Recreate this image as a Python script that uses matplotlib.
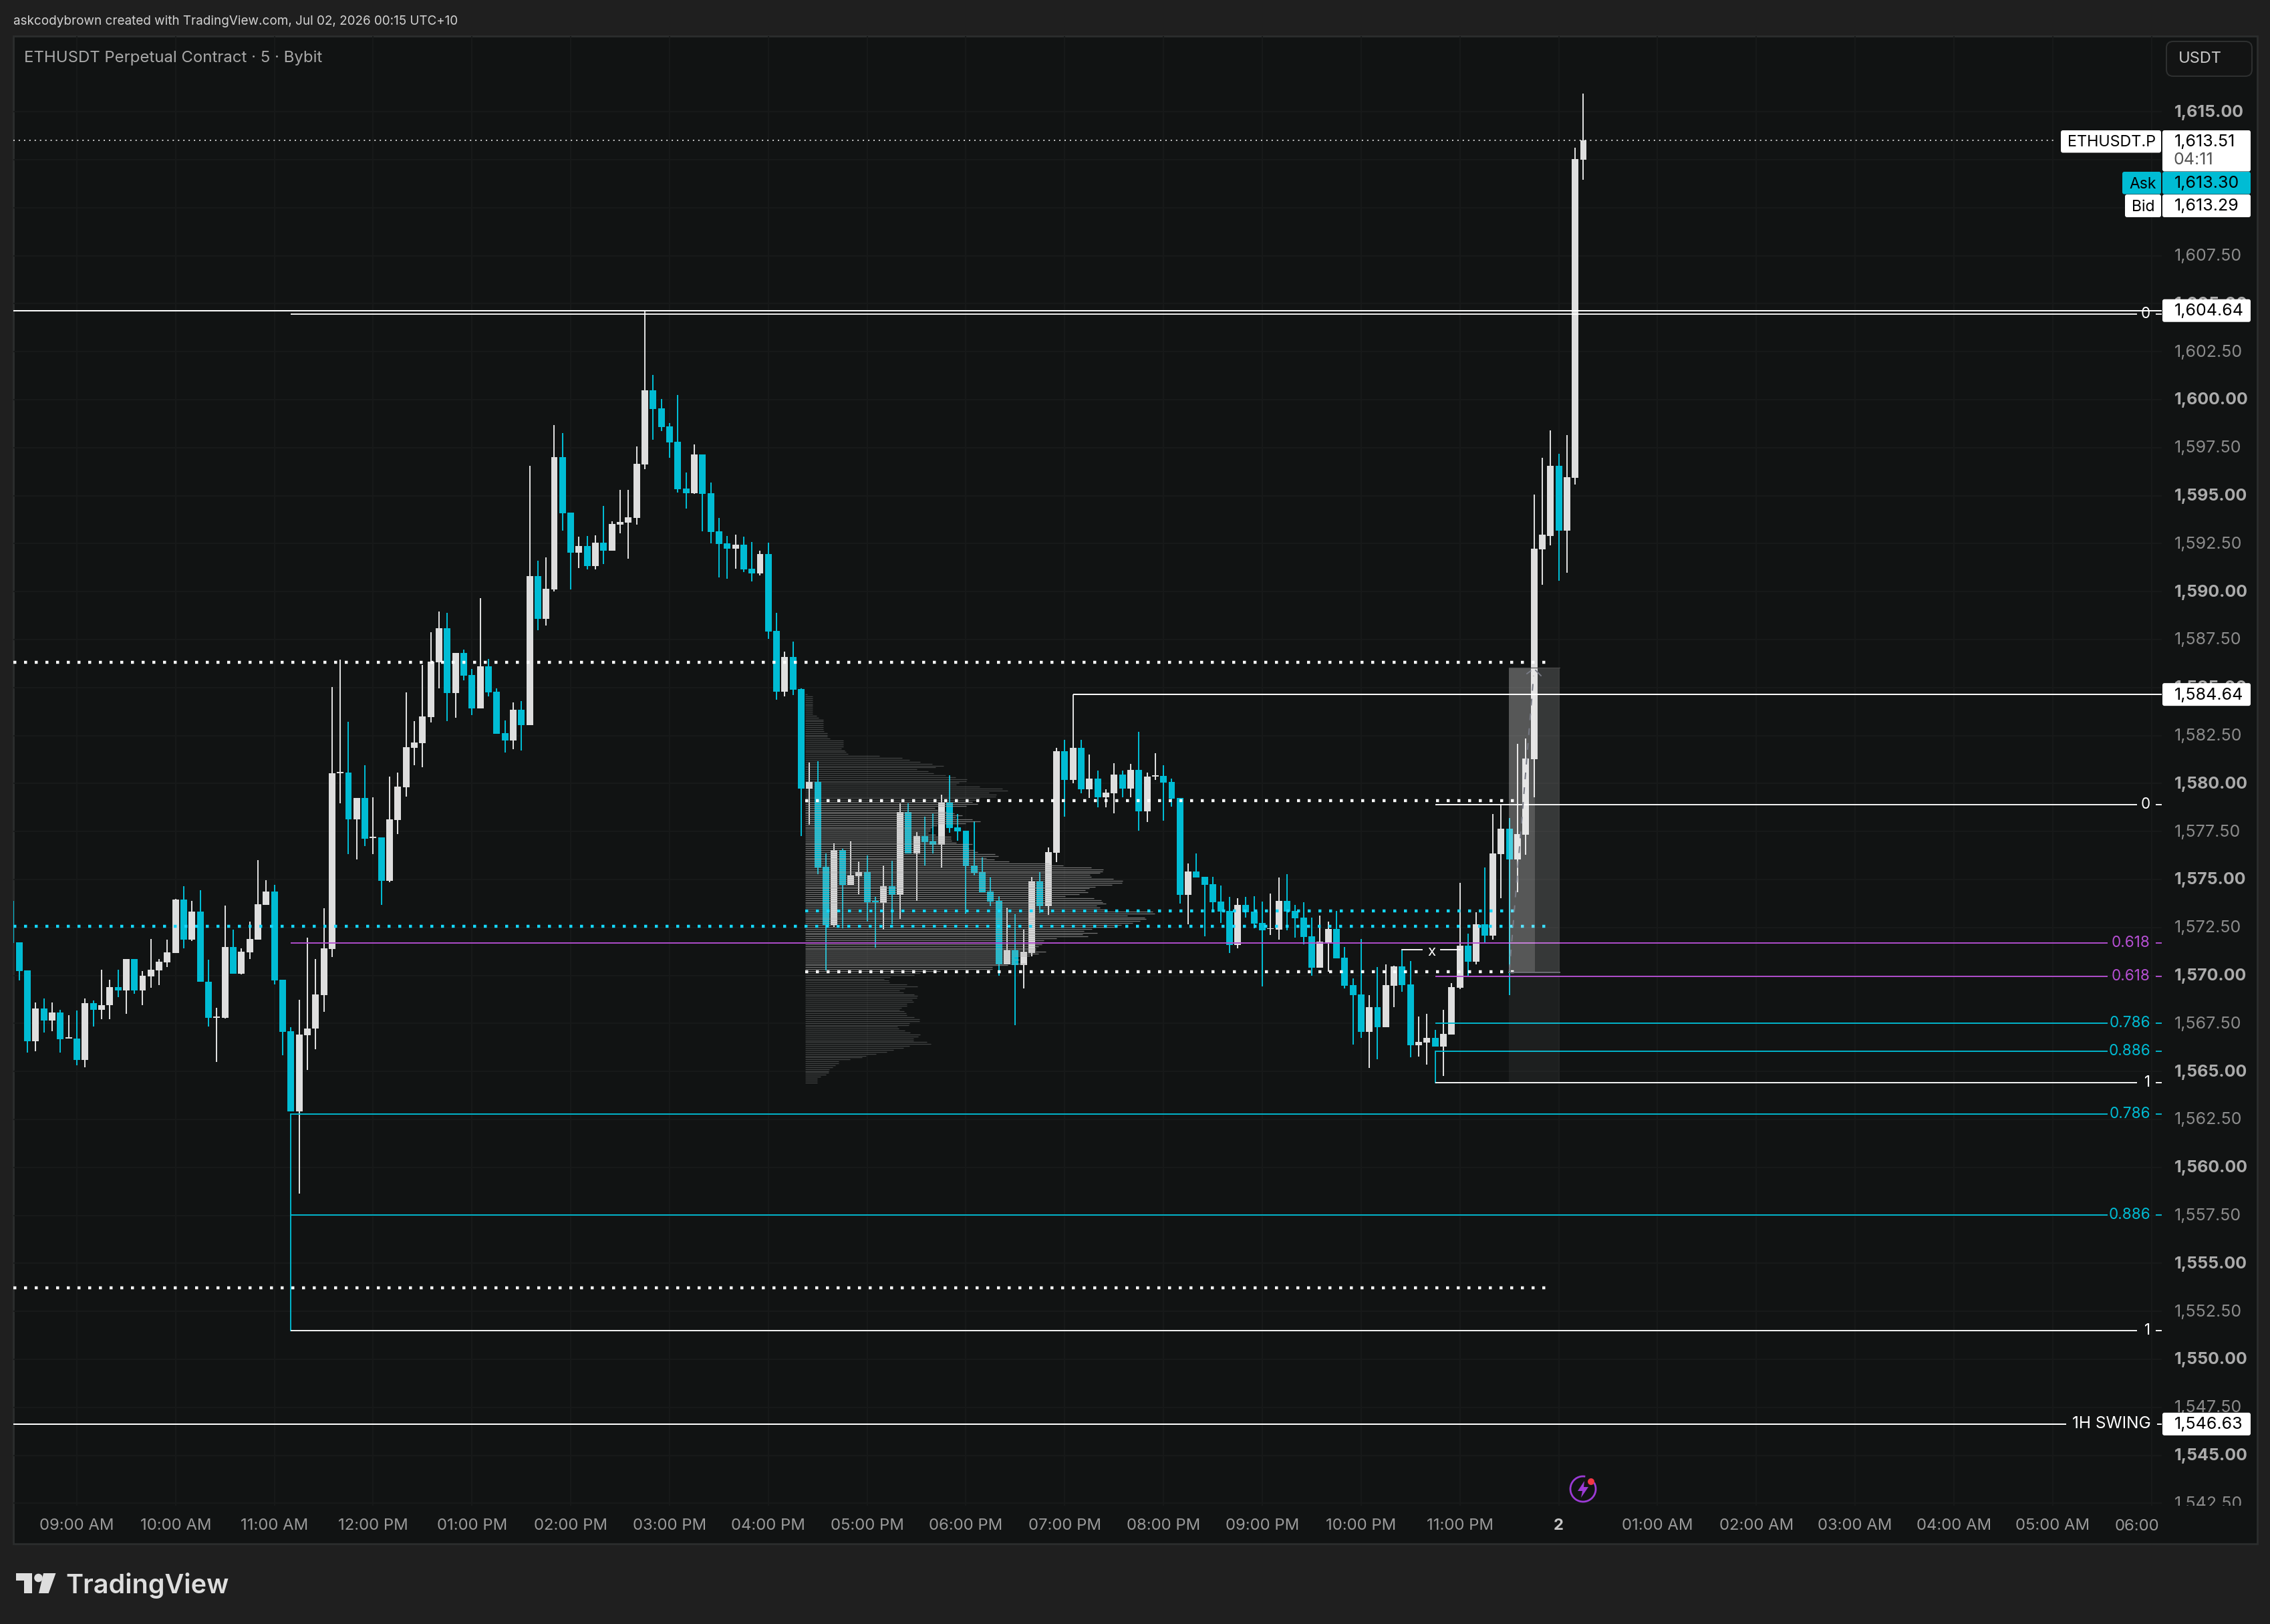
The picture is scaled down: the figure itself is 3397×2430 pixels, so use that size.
import numpy as np
import matplotlib
matplotlib.use('Agg')
import matplotlib.pyplot as plt
from matplotlib.patches import Rectangle, FancyBboxPatch, Polygon, Circle, Arc
from matplotlib.transforms import Bbox, ScaledTranslation

plt.rcParams['font.family'] = ['Inter', 'DejaVu Sans']

# 5 minute candles, first one is bar -1 (clipped by left edge)
opens = [
    1573.89,1571.71,1570.25,1566.59,1568.27,1567.67,1568.07,1566.73,1566.73,1565.59,
    1568.55,1568.21,1568.45,1569.39,1569.21,1570.85,1569.21,1569.95,1570.25,1570.67,
    1571.17,1573.95,1571.85,1573.33,1569.69,1567.79,1567.79,1571.47,1570.09,1571.19,
    1571.85,1573.67,1574.37,1569.77,1567.09,1562.93,1566.87,1567.23,1568.97,1571.37,
    1580.55,1580.57,1578.13,1579.25,1577.17,1577.19,1574.93,1578.09,1579.81,1581.85,
    1582.11,1583.47,1586.31,1588.09,1584.71,1586.81,1585.65,1583.91,1586.11,1584.79,
    1582.63,1582.25,1583.85,1583.04,1590.80,1588.58,1590.10,1597.00,1594.11,1592.03,
    1592.37,1591.33,1592.54,1592.12,1593.49,1593.58,1593.83,1596.62,1600.49,1599.54,
    1598.61,1597.80,1595.37,1595.12,1597.14,1595.12,1593.13,1592.51,1592.23,1592.43,
    1591.19,1590.94,1591.95,1587.94,1584.79,1586.59,1584.93,1579.73,1580.08,1575.66,
    1572.63,1576.53,1574.71,1575.16,1575.38,1573.87,1573.78,1574.65,1574.20,1578.51,
    1576.36,1577.26,1576.98,1576.81,1579.00,1577.71,1577.54,1575.72,1575.38,1574.37,
    1573.87,1570.59,1571.31,1570.53,1571.18,1574.88,1573.61,1576.39,1581.68,1580.19,
    1581.85,1579.70,1580.25,1579.28,1579.49,1580.46,1579.73,1580.71,1578.55,1580.37,
    1580.39,1580.08,1579.24,1574.20,1575.41,1575.13,1574.74,1573.84,1573.36,1571.59,
    1573.67,1573.33,1572.74,1572.41,1572.39,1573.88,1573.36,1573.01,1572.03,1570.40,
    1571.70,1572.42,1570.92,1569.50,1569.00,1567.06,1568.34,1567.30,1569.46,1570.48,
    1569.53,1566.36,1566.50,1566.75,1566.29,1566.93,1569.36,1571.55,1570.71,1572.67,
    1572.08,1576.32,1577.64,1576.04,1577.33,1581.26,1592.19,1592.91,1596.54,1593.16,
    1595.92,1612.50]
highs = [
    1573.89,1571.71,1570.25,1568.61,1568.79,1568.61,1568.21,1567.93,1568.17,1568.79,
    1568.69,1570.29,1569.77,1570.29,1570.85,1570.85,1570.23,1571.89,1570.85,1571.85,
    1573.99,1574.65,1573.87,1574.43,1570.81,1568.33,1573.63,1572.39,1571.41,1572.79,
    1576.01,1574.95,1574.71,1569.77,1567.29,1568.73,1571.97,1570.85,1573.49,1585.03,
    1586.45,1583.21,1579.25,1580.95,1579.29,1577.19,1580.37,1580.57,1584.75,1583.25,
    1586.17,1587.89,1588.97,1588.89,1586.81,1586.99,1585.97,1589.65,1586.49,1584.97,
    1583.29,1584.23,1584.29,1596.55,1591.61,1591.78,1598.67,1598.25,1594.11,1592.85,
    1592.90,1592.93,1594.45,1593.66,1595.29,1595.29,1597.56,1604.64,1601.28,1600.04,
    1598.78,1600.24,1596.20,1597.66,1597.14,1595.68,1593.83,1592.90,1592.96,1592.85,
    1592.57,1592.12,1592.54,1588.89,1586.87,1587.40,1584.96,1581.09,1581.16,1576.36,
    1576.87,1576.59,1576.98,1575.94,1576.27,1574.08,1575.72,1575.97,1578.97,1578.97,
    1577.48,1578.27,1578.44,1579.42,1580.43,1578.41,1577.54,1578.02,1576.14,1575.10,
    1574.12,1573.53,1573.19,1572.38,1575.13,1575.38,1576.67,1581.85,1582.27,1584.64,
    1582.27,1581.51,1580.67,1579.70,1581.06,1580.67,1581.02,1582.69,1580.57,1581.58,
    1580.95,1580.25,1579.24,1575.83,1576.36,1575.13,1575.13,1574.68,1574.09,1574.01,
    1574.09,1574.12,1573.85,1574.26,1575.10,1575.28,1573.67,1573.81,1573.01,1573.12,
    1572.80,1573.36,1571.48,1569.84,1571.90,1568.98,1570.44,1570.57,1570.52,1571.32,
    1570.75,1567.86,1568.00,1567.16,1568.21,1569.60,1574.83,1572.17,1573.29,1575.63,
    1578.41,1578.89,1578.20,1582.07,1582.35,1595.05,1596.97,1598.40,1597.17,1598.15,
    1613.11,1615.95]
lows = [
    1571.69,1569.73,1565.99,1566.05,1567.01,1567.09,1565.99,1566.73,1565.31,1565.21,
    1567.33,1567.71,1567.71,1568.87,1567.99,1569.03,1568.47,1569.35,1569.49,1570.43,
    1571.17,1571.41,1571.79,1569.67,1567.33,1565.49,1567.75,1570.09,1570.05,1570.85,
    1571.85,1573.67,1569.55,1565.83,1562.93,1558.65,1565.09,1566.17,1568.09,1570.95,
    1578.97,1576.31,1576.05,1576.73,1576.31,1573.67,1574.85,1577.37,1579.31,1580.95,
    1580.85,1583.19,1584.97,1583.25,1583.43,1585.37,1583.57,1583.91,1584.55,1582.59,
    1581.61,1581.79,1581.71,1583.04,1587.99,1588.22,1590.01,1593.16,1590.10,1591.22,
    1591.16,1591.16,1591.42,1592.12,1593.02,1591.70,1593.49,1596.38,1597.91,1598.36,
    1596.97,1595.15,1594.32,1595.09,1593.13,1592.51,1590.74,1590.66,1591.19,1591.02,
    1590.52,1590.83,1587.54,1584.37,1584.54,1584.60,1577.26,1577.85,1575.27,1570.27,
    1572.52,1572.47,1574.71,1574.23,1572.80,1571.45,1572.38,1572.66,1572.94,1576.36,
    1573.87,1575.72,1576.36,1575.61,1577.43,1577.01,1573.21,1575.21,1574.34,1573.61,
    1569.99,1570.59,1567.41,1569.32,1571.00,1573.25,1573.14,1575.89,1578.27,1580.01,
    1579.49,1579.24,1578.75,1578.75,1578.44,1579.28,1579.28,1577.54,1577.99,1580.19,
    1578.06,1578.79,1573.75,1572.66,1575.10,1572.04,1573.39,1572.74,1571.17,1571.42,
    1573.00,1572.46,1569.43,1572.10,1571.87,1572.35,1571.97,1571.63,1569.98,1570.40,
    1570.18,1570.89,1569.32,1566.40,1566.75,1565.18,1565.63,1567.30,1568.34,1569.14,
    1565.74,1565.77,1565.36,1566.29,1564.76,1566.93,1569.29,1569.98,1570.57,1571.73,
    1571.87,1574.02,1568.98,1574.33,1576.29,1579.27,1590.35,1592.40,1590.58,1590.97,
    1595.59,1611.45]
closes = [
    1571.69,1570.23,1566.59,1568.27,1567.67,1568.07,1566.67,1566.77,1565.59,1568.55,
    1568.21,1568.47,1569.39,1569.21,1570.85,1569.21,1569.97,1570.29,1570.71,1571.19,
    1573.95,1571.85,1573.33,1569.67,1567.79,1567.85,1571.47,1570.09,1571.23,1571.89,
    1573.71,1574.37,1569.73,1567.05,1562.93,1566.91,1567.25,1569.01,1571.41,1580.53,
    1580.61,1578.13,1579.25,1577.13,1577.23,1574.93,1578.13,1579.83,1581.89,1582.13,
    1583.49,1586.35,1588.09,1584.71,1586.81,1585.63,1583.91,1586.11,1584.75,1582.59,
    1582.25,1583.85,1583.05,1590.80,1588.58,1590.15,1597.00,1594.08,1592.03,1592.37,
    1591.33,1592.54,1592.12,1593.52,1593.63,1593.86,1596.65,1600.49,1599.51,1598.57,
    1597.77,1595.33,1595.12,1597.14,1595.09,1593.10,1592.48,1592.23,1592.43,1591.16,
    1590.94,1591.95,1587.91,1584.79,1586.59,1584.88,1579.73,1580.08,1575.61,1572.63,
    1576.53,1574.71,1575.21,1575.38,1573.81,1573.81,1574.65,1574.20,1578.51,1576.36,
    1577.26,1576.95,1576.81,1579.00,1577.68,1577.50,1575.69,1575.35,1574.34,1573.86,
    1570.59,1571.31,1570.53,1571.23,1574.88,1573.61,1576.42,1581.68,1580.19,1581.85,
    1579.70,1580.25,1579.28,1579.52,1580.46,1579.73,1580.71,1578.55,1580.36,1580.43,
    1580.05,1579.21,1574.20,1575.41,1575.10,1574.71,1573.81,1573.33,1571.59,1573.67,
    1573.28,1572.69,1572.35,1572.46,1573.88,1573.33,1572.98,1572.01,1570.40,1571.76,
    1572.42,1570.89,1569.46,1568.98,1567.06,1568.34,1567.30,1569.50,1570.48,1569.50,
    1566.36,1566.54,1566.75,1566.29,1566.95,1569.39,1571.55,1570.71,1572.67,1572.08,
    1576.36,1577.64,1576.04,1577.36,1581.30,1592.22,1592.96,1596.54,1593.16,1595.95,
    1612.53,1613.51]

# volume profile rows, top row to bottom row
vp_volume = [
    8,33,33,33,33,33,33,33,33,33,33,51,60,81,81,81,81,81,81,84,99,99,99,111,171,171,171,171,162,177,
    183,192,333,435,468,516,570,621,585,501,552,576,630,675,726,723,690,678,783,885,909,825,858,855,
    783,780,750,774,723,582,594,636,669,705,675,750,786,720,590,570,560,560,552,585,654,654,657,678,
    750,729,735,759,774,852,867,813,849,915,1095,1158,1284,1338,1335,1323,1278,1284,1383,1425,1422,
    1377,1302,1275,1257,1269,1230,1167,1296,1329,1335,1350,1308,1323,1353,1560,1570,1446,1524,1530,
    1503,1470,1419,1386,1287,1251,1311,1245,1269,1128,1071,1068,1062,1047,1035,1035,1080,1047,1008,
    939,960,942,990,909,840,840,606,516,489,381,354,375,378,456,504,447,423,441,489,504,501,480,486,
    456,456,432,423,444,453,456,489,513,513,468,465,414,420,447,471,516,507,486,486,546,564,468,441,
    396,366,318,273,255,201,150,150,135,123,108,105,105,93,69,54,54,54]
vp_high = 1584.64
vp_low = 1564.42
vp_va_high = 1579.12
vp_va_low = 1570.21

# fib tools
fib_labels = ['0', '0.618', '0.786', '0.886', '1']
fib_a_levels = [1604.46, 1571.69, 1562.78, 1557.52, 1551.48]
fib_b_levels = [1578.91, 1569.96, 1567.52, 1566.06, 1564.42]
fib_a_bar = 33
fib_b_bar = 172

# key levels
last_price = 1613.51
ask_price = 1613.30
bid_price = 1613.29
swing_high = 1604.64
swing_mid = 1584.64
swing_1h = 1546.63
white_dots_long = [1586.33, 1553.74]
cyan_dot_long = 1572.58
white_dots_short = [1579.12, 1570.21]
cyan_dot_short = 1573.36

y_ticks = np.arange(1542.5, 1615.1, 2.5)
time_bars = [7, 19, 31, 43, 55, 67, 79, 91, 103, 115, 127, 139, 151, 163, 175, 187, 199, 211, 223, 235, 247, 259]
time_labels = ['09:00 AM', '10:00 AM', '11:00 AM', '12:00 PM', '01:00 PM', '02:00 PM', '03:00 PM', '04:00 PM',
               '05:00 PM', '06:00 PM', '07:00 PM', '08:00 PM', '09:00 PM', '10:00 PM', '11:00 PM', '2',
               '01:00 AM', '02:00 AM', '03:00 AM', '04:00 AM', '05:00 AM', '']

UP = '#DEDEDE'
DOWN = '#00BCD4'
PURPLE = '#B64FD3'
DOT_CYAN = '#14D8FF'
PANE = '#111313'
OUTER = '#1F1F1F'
GRID = '#181A1A'

W, H = 3398, 2430
LEFT = 20


# pixel <-> chart helpers for the drawing tools
def bar_x(px):
    return (px - 28.7) / 12.32


def price_y(py):
    return 1550 + (2034 - py) / 28.72


def py_of(price):
    return 2034 - (price - 1550) * 28.72


fig = plt.figure(figsize=(W / 100, H / 100), dpi=100, facecolor=OUTER)

# frame
bg = fig.add_axes([0, 0, 1, 1], zorder=0)
bg.set_xlim(0, W)
bg.set_ylim(H, 0)
bg.axis('off')
bg.add_patch(Rectangle((LEFT, 54), 3378 - LEFT, 2256, fc=PANE, ec='#2B2D2D', lw=2))
bg.text(20, 32, 'askcodybrown created with TradingView.com, Jul 02, 2026 00:15 UTC+10',
        color='#D2D2D2', fontsize=13.6, va='center')

# TradingView logo
bg.add_patch(Polygon([(24, 2354), (48, 2354), (48, 2384), (36.4, 2384), (36.4, 2364.5), (24, 2364.5)], fc='#DEDEDE'))
bg.add_patch(Circle((57.5, 2361), 6.3, fc='#DEDEDE'))
bg.add_patch(Polygon([(65, 2354), (83.5, 2354), (72.7, 2384), (58, 2384)], fc='#DEDEDE'))
bg.text(98, 2372, 'TradingView', color='#DEDEDE', fontsize=28.5, fontweight='semibold', va='center')

# main chart
ax = fig.add_axes([LEFT / W, (H - 2253) / H, (3235 - LEFT) / W, (2253 - 54) / H], zorder=1)
ax.set_facecolor('none')
ax.set_xlim(bar_x(LEFT), bar_x(3235))
ax.set_ylim(price_y(2253), price_y(54))
for s in ax.spines.values():
    s.set_visible(False)

ax.yaxis.tick_right()
ax.set_yticks(y_ticks)
ax.set_yticklabels([f'{v:,.2f}' for v in y_ticks])
ax.tick_params(axis='y', length=0, pad=13.5, labelsize=18)
clip = Bbox([[3235, H - 2253], [3378, H - 54]])
nudge = ScaledTranslation(0, 1.5 / 100, fig.dpi_scale_trans)
for v, lab in zip(y_ticks, ax.get_yticklabels()):
    if v % 5 == 0:
        lab.set_fontweight('bold')
        lab.set_color('#ABABAB')
    else:
        lab.set_color('#8C8C8C')
    lab.set_transform(lab.get_transform() + nudge)
    lab.set_clip_box(clip)
    lab.set_clip_on(True)

ax.set_xticks(time_bars)
ax.set_xticklabels(time_labels)
ax.tick_params(axis='x', length=0, pad=14, labelsize=17.2, labelcolor='#9A9A9A')
for t, lab in zip(time_labels, ax.get_xticklabels()):
    if t == '2':
        lab.set_fontweight('bold')
        lab.set_color('#C8C8C8')
ax.grid(True, color=GRID, lw=1.3, zorder=0)
ax.set_axisbelow(True)

# candles
bars = np.arange(len(opens)) - 1
o = np.array(opens)
h = np.array(highs)
l = np.array(lows)
c = np.array(closes)
cols = [UP if cc >= oo else DOWN for oo, cc in zip(o, c)]
ax.vlines(bars, l, h, colors=cols, lw=1.45, zorder=3)
ax.bar(bars, np.maximum(np.abs(c - o), 0.05), bottom=np.minimum(o, c), width=0.81, color=cols, lw=0, zorder=3)

# volume profile on top of the candles
vp_y = np.linspace(vp_high, vp_low, len(vp_volume))
vp_x0 = bar_x(1205)
vp_x1 = vp_x0 + np.array(vp_volume) / 36.96
in_va = (vp_y <= vp_va_high) & (vp_y >= vp_va_low)
ax.hlines(vp_y[in_va], vp_x0, vp_x1[in_va], colors='#A8A8A8', alpha=0.65, lw=0.9, zorder=4)
ax.hlines(vp_y[~in_va], vp_x0, vp_x1[~in_va], colors='#A8A8A8', alpha=0.33, lw=0.9, zorder=4)

# dotted levels
dot = dict(lw=3.2, dashes=(1, 2.6), zorder=5, dash_capstyle='butt')
for v in white_dots_long:
    ax.plot([bar_x(LEFT), bar_x(2314)], [v, v], color='white', **dot)
ax.plot([bar_x(LEFT), bar_x(2314)], [cyan_dot_long, cyan_dot_long], color=DOT_CYAN, **dot)
for v in white_dots_short:
    ax.plot([vp_x0, bar_x(2266)], [v, v], color='white', **dot)
ax.plot([vp_x0, bar_x(2266)], [cyan_dot_short, cyan_dot_short], color=DOT_CYAN, **dot)
ax.plot([bar_x(LEFT), bar_x(3078)], [last_price, last_price], color='white', lw=1.1, dashes=(1.3, 3.9), zorder=5)

# horizontal swing lines
line = dict(color='white', lw=1.45, zorder=5, solid_capstyle='butt')
ax.plot([bar_x(LEFT), bar_x(3235)], [swing_high, swing_high], **line)
ax.plot([128, bar_x(3235)], [swing_mid, swing_mid], **line)
ax.plot([bar_x(LEFT), bar_x(3092)], [swing_1h, swing_1h], **line)
ax.plot([bar_x(3228), bar_x(3235)], [swing_1h, swing_1h], **line)
ax.text(bar_x(3219), swing_1h, '1H SWING', color='white', fontsize=17.6, ha='right', va='center', zorder=6)

# fib tools
fib_cols = ['white', PURPLE, DOWN, DOWN, 'white']
for start, levels in ((fib_a_bar, fib_a_levels), (fib_b_bar, fib_b_levels)):
    for lab, lev, col in zip(fib_labels, levels, fib_cols):
        end = 3198 if len(lab) == 1 else 3154
        ax.plot([start, bar_x(end)], [lev, lev], color=col, lw=1.35, zorder=5, solid_capstyle='butt')
        ax.plot([bar_x(3226), bar_x(3235)], [lev, lev], color=col, lw=1.35, zorder=5, solid_capstyle='butt')
        ax.text(bar_x(3218), lev, lab, color=col, fontsize=16.2, ha='right', va='center', zorder=6)
ax.plot([fib_a_bar, fib_a_bar], [fib_a_levels[2], fib_a_levels[4]], color=DOWN, lw=1.35, zorder=2)
ax.plot([fib_b_bar, fib_b_bar], [fib_b_levels[3], fib_b_levels[4]], color=DOWN, lw=1.35, zorder=2)

# x marker between two bars
x_level = 1571.34
ax.plot([168, bar_x(2128)], [x_level, x_level], color='white', lw=1.35, zorder=5)
ax.plot([bar_x(2156), 175], [x_level, x_level], color='white', lw=1.35, zorder=5)
ax.text(bar_x(2142), x_level - 0.1, 'x', color='white', fontsize=16, ha='center', va='center', zorder=6)

# shaded long/short box and trend arrow
box_l, box_m, box_r = bar_x(2258), bar_x(2297), bar_x(2333.8)
box_top, box_mid, box_bot = price_y(999), price_y(1454.5), fib_b_levels[4]
ax.add_patch(Rectangle((box_l, box_bot), box_r - box_l, box_top - box_bot, fc='white', alpha=0.05, lw=0, zorder=6))
ax.add_patch(Rectangle((box_l, box_mid), box_r - box_l, box_top - box_mid, fc='white', alpha=0.115, lw=0, zorder=6))
ax.add_patch(Rectangle((box_l, box_mid), box_m - box_l, box_top - box_mid, fc='white', alpha=0.16, lw=0, zorder=6))
ax.plot([box_l, box_r], [box_mid, box_mid], color='#6E6E78', lw=1.4, zorder=6)
ax.plot([box_l, box_r], [box_top, box_top], color='#4A4A4A', lw=0.8, zorder=6)
ax.plot([bar_x(2258.7), bar_x(2295)], [price_y(1453), price_y(1011)], color='#787B86', lw=1.45, dashes=(5, 6), zorder=7)
ax.plot([bar_x(2285), bar_x(2290.5)], [price_y(1008), price_y(1004)], color='#787B86', lw=1.3, zorder=7)
ax.plot([bar_x(2298), bar_x(2306)], [price_y(1003), price_y(1011)], color='#787B86', lw=1.3, zorder=7)

# overlay for labels, tags and buttons
top = fig.add_axes([0, 0, 1, 1], zorder=2)
top.set_xlim(0, W)
top.set_ylim(H, 0)
top.axis('off')
top.patch.set_alpha(0)

top.text(36, 86.5, 'ETHUSDT Perpetual Contract \u00b7 5 \u00b7 Bybit', color='#A8A8A8', fontsize=17.25, va='center')
top.text(3231, 2283.5, '06:00', color='#9A9A9A', fontsize=17.2, ha='right', va='center')

# USDT button
top.add_patch(FancyBboxPatch((3248, 68), 116, 40, boxstyle='round,pad=6,rounding_size=10', fc='#131414', ec='#2F3131', lw=1.4))
top.text(3260, 88.5, 'USDT', color='#C8C8C8', fontsize=17, va='center')


def tag(x0, x1, y0, y1, col):
    top.add_patch(FancyBboxPatch((x0 + 2, y0 + 2), x1 - x0 - 4, y1 - y0 - 4, boxstyle='round,pad=2,rounding_size=3', fc=col, ec='none', lw=0))


# price tags on the axis
tag(3084, 3234, 195, 228.5, 'white')
tag(3236, 3368, 195, 256.5, 'white')
tag(3176, 3234, 257, 290.5, DOWN)
tag(3236, 3368, 257, 290.5, DOWN)
tag(3180, 3234, 291, 325, 'white')
tag(3236, 3368, 291, 325, 'white')
top.text(3094, 213, 'ETHUSDT.P', color='black', fontsize=16.8, va='center')
top.text(3254, 212.5, f'{last_price:,.2f}', color='black', fontsize=18, va='center')
top.text(3253, 240, '04:11', color='#555555', fontsize=18, va='center')
top.text(3186, 275.5, 'Ask', color='black', fontsize=16.5, va='center')
top.text(3254, 274.5, f'{ask_price:,.2f}', color='black', fontsize=18, va='center')
top.text(3190, 309.5, 'Bid', color='black', fontsize=16.5, va='center')
top.text(3254, 308.5, f'{bid_price:,.2f}', color='black', fontsize=18, va='center')
for p in (swing_high, swing_mid, swing_1h):
    yc = py_of(p)
    tag(3236, 3368, yc - 17, yc + 17, 'white')
    top.text(3254, yc + 1, f'{p:,.2f}', color='black', fontsize=18, va='center')

# alert icon under the last bar
top.add_patch(Arc((2369, 2228), 38, 38, theta1=-30, theta2=280, ec='#9C3BD6', lw=2))
top.add_patch(Polygon([(2371, 2216), (2361, 2231), (2368, 2231), (2366, 2241), (2377, 2225), (2370, 2225)], fc='#9C3BD6'))
top.add_patch(Circle((2381, 2217), 5, fc='#F23645'))

fig.savefig('out.png', dpi=100, facecolor=OUTER)
